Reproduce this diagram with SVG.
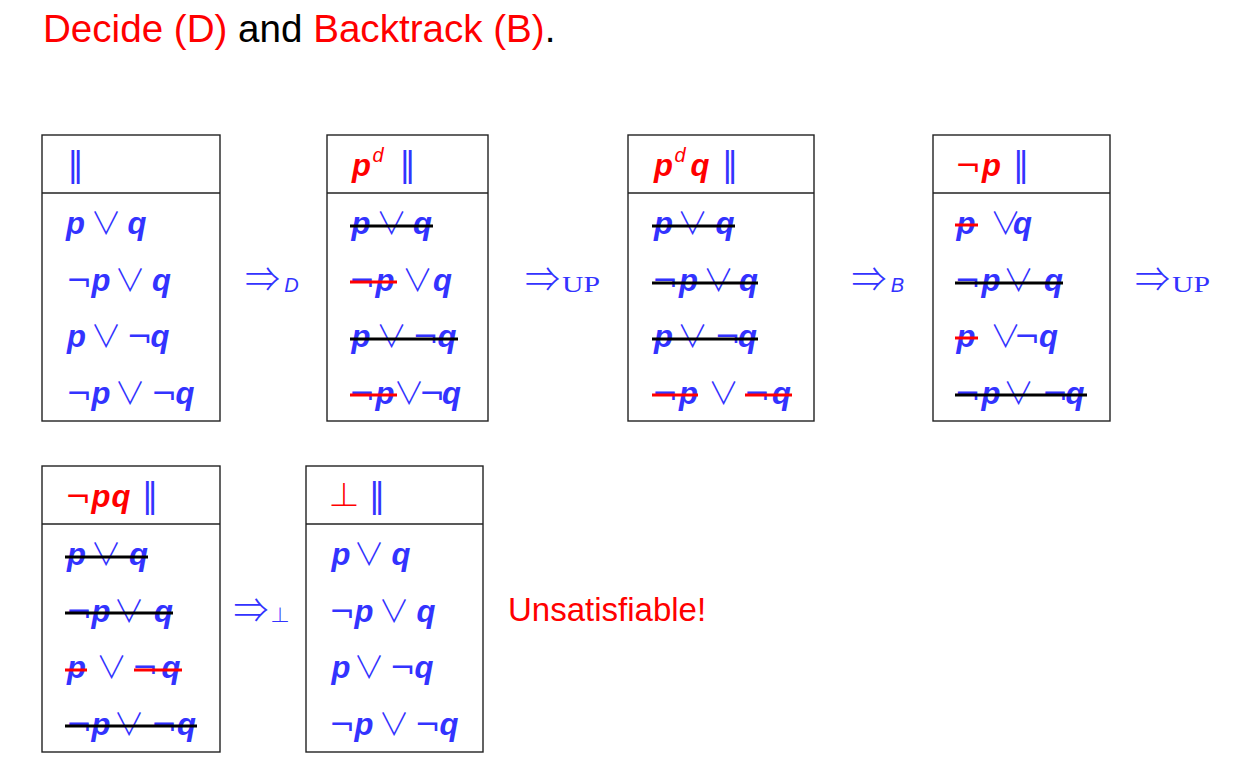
<svg xmlns="http://www.w3.org/2000/svg" width="1239" height="769" viewBox="0 0 1239 769">
<style>
text{text-anchor:middle}
.v{font-family:"Liberation Sans",Arial,sans-serif;font-style:italic;font-weight:bold;font-size:31px}
.s{font-family:"DejaVu Sans",sans-serif;font-size:31px}
.o{font-family:"Noto Sans CJK JP","DejaVu Sans",sans-serif;font-weight:300;font-size:31px}
.bar{font-family:"DejaVu Sans",sans-serif;font-size:33px}
.bot{font-family:"Noto Sans CJK JP","DejaVu Sans",sans-serif;font-weight:300;font-size:32px}
.b{fill:#3333ff}
.r{fill:#ff0000}
.box{fill:none;stroke:#222;stroke-width:1.4}
.ks{stroke:#000;stroke-width:3}
.rs{stroke:#ff0000;stroke-width:3}
.title{font-family:"Liberation Sans",Arial,sans-serif;font-size:38.6px;text-anchor:start}
.sub{font-family:"Liberation Sans",Arial,sans-serif;font-style:italic;font-size:20px}
.up{font-family:"Liberation Serif","Times New Roman",serif;font-size:23px;text-anchor:start}
.arr{font-family:"Noto Sans CJK JP","DejaVu Sans",sans-serif;font-weight:300;font-size:35px}
</style>
<text class="title" x="43" y="42"><tspan fill="#ff0000">Decide (D)</tspan> <tspan fill="#000">and</tspan> <tspan fill="#ff0000">Backtrack (B)</tspan><tspan fill="#000">.</tspan></text>

<g id="node1">
<rect class="box" x="42" y="135" width="178" height="286"/><line class="box" x1="42" y1="193" x2="220" y2="193"/>
<text y="176"><tspan class="bar b" x="75.5">‖</tspan></text>
<text y="234"><tspan class="v b" x="75.5">p</tspan><tspan class="o b" x="106">∨</tspan><tspan class="v b" x="137">q</tspan></text>
<text y="291"><tspan class="s b" x="79">¬</tspan><tspan class="v b" x="101">p</tspan><tspan class="o b" x="130">∨</tspan><tspan class="v b" x="161.5">q</tspan></text>
<text y="347"><tspan class="v b" x="76.5">p</tspan><tspan class="o b" x="106">∨</tspan><tspan class="s b" x="139.5">¬</tspan><tspan class="v b" x="160">q</tspan></text>
<text y="404"><tspan class="s b" x="79">¬</tspan><tspan class="v b" x="101">p</tspan><tspan class="o b" x="130">∨</tspan><tspan class="s b" x="164">¬</tspan><tspan class="v b" x="185">q</tspan></text>
</g>

<g id="node2">
<rect class="box" x="327" y="135" width="161" height="286"/><line class="box" x1="327" y1="193" x2="488" y2="193"/>
<text y="176"><tspan class="v r" x="361.5">p</tspan><tspan class="sub r" x="378" y="162">d</tspan><tspan class="bar b" x="407.5" y="176">‖</tspan></text>
<text y="234"><tspan class="v b" x="361">p</tspan><tspan class="o b" x="391.5">∨</tspan><tspan class="v b" x="422.5">q</tspan></text>
<text y="291"><tspan class="s b" x="362">¬</tspan><tspan class="v b" x="385">p</tspan><tspan class="o b" x="417.5">∨</tspan><tspan class="v b" x="442.5">q</tspan></text>
<text y="347"><tspan class="v b" x="361">p</tspan><tspan class="o b" x="391.5">∨</tspan><tspan class="s b" x="425.5">¬</tspan><tspan class="v b" x="447">q</tspan></text>
<text y="404"><tspan class="s b" x="362">¬</tspan><tspan class="v b" x="385">p</tspan><tspan class="o b" x="409">∨</tspan><tspan class="s b" x="432">¬</tspan><tspan class="v b" x="451.5">q</tspan></text>
<line class="ks" x1="350" y1="226" x2="433" y2="226"/>
<line class="rs" x1="350" y1="282" x2="397" y2="282"/>
<line class="ks" x1="350" y1="339" x2="458" y2="339"/>
<line class="rs" x1="350" y1="395" x2="397" y2="395"/>
</g>

<g id="node3">
<rect class="box" x="628" y="135" width="186" height="286"/><line class="box" x1="628" y1="193" x2="814" y2="193"/>
<text y="176"><tspan class="v r" x="663.5">p</tspan><tspan class="sub r" x="680" y="162">d</tspan><tspan class="v r" x="700" y="176">q</tspan><tspan class="bar b" x="730" y="176">‖</tspan></text>
<text y="234"><tspan class="v b" x="663.5">p</tspan><tspan class="o b" x="692.5">∨</tspan><tspan class="v b" x="725">q</tspan></text>
<text y="291"><tspan class="s b" x="665">¬</tspan><tspan class="v b" x="688.5">p</tspan><tspan class="o b" x="718.5">∨</tspan><tspan class="v b" x="748.5">q</tspan></text>
<text y="347"><tspan class="v b" x="663.5">p</tspan><tspan class="o b" x="692.5">∨</tspan><tspan class="s b" x="727.5">¬</tspan><tspan class="v b" x="747.5">q</tspan></text>
<text y="404"><tspan class="s b" x="665">¬</tspan><tspan class="v b" x="688.5">p</tspan><tspan class="o b" x="723.5">∨</tspan><tspan class="s b" x="757">¬</tspan><tspan class="v b" x="781.5">q</tspan></text>
<line class="ks" x1="652" y1="226" x2="735" y2="226"/>
<line class="ks" x1="652" y1="283" x2="758" y2="283"/>
<line class="ks" x1="652" y1="339" x2="758" y2="339"/>
<line class="rs" x1="652" y1="395" x2="698" y2="395"/>
<line class="rs" x1="745" y1="395" x2="792" y2="395"/>
</g>

<g id="node4">
<rect class="box" x="933" y="135" width="177" height="286"/><line class="box" x1="933" y1="193" x2="1110" y2="193"/>
<text y="176"><tspan class="s r" x="968">¬</tspan><tspan class="v r" x="991.5">p</tspan><tspan class="bar b" x="1021">‖</tspan></text>
<text y="234"><tspan class="v b" x="966">p</tspan><tspan class="o b" x="1005.5">∨</tspan><tspan class="v b" x="1022.5">q</tspan></text>
<text y="291"><tspan class="s b" x="967.5">¬</tspan><tspan class="v b" x="991">p</tspan><tspan class="o b" x="1018.5">∨</tspan><tspan class="v b" x="1053.5">q</tspan></text>
<text y="347"><tspan class="v b" x="966">p</tspan><tspan class="o b" x="1005.5">∨</tspan><tspan class="s b" x="1027">¬</tspan><tspan class="v b" x="1048.5">q</tspan></text>
<text y="404"><tspan class="s b" x="967.5">¬</tspan><tspan class="v b" x="991">p</tspan><tspan class="o b" x="1018.5">∨</tspan><tspan class="s b" x="1055">¬</tspan><tspan class="v b" x="1075">q</tspan></text>
<line class="rs" x1="955" y1="225" x2="978" y2="225"/>
<line class="ks" x1="955" y1="283" x2="1063" y2="283"/>
<line class="rs" x1="955" y1="338" x2="978" y2="338"/>
<line class="ks" x1="955" y1="395" x2="1087" y2="395"/>
</g>

<g id="node5">
<rect class="box" x="42" y="466" width="178" height="286"/><line class="box" x1="42" y1="524" x2="220" y2="524"/>
<text y="507"><tspan class="s r" x="78">¬</tspan><tspan class="v r" x="101">p</tspan><tspan class="v r" x="121">q</tspan><tspan class="bar b" x="150">‖</tspan></text>
<text y="565"><tspan class="v b" x="76.5">p</tspan><tspan class="o b" x="106">∨</tspan><tspan class="v b" x="138.5">q</tspan></text>
<text y="622"><tspan class="s b" x="79">¬</tspan><tspan class="v b" x="101">p</tspan><tspan class="o b" x="129">∨</tspan><tspan class="v b" x="163.5">q</tspan></text>
<text y="678"><tspan class="v b" x="76.5">p</tspan><tspan class="o b" x="111.5">∨</tspan><tspan class="s b" x="145">¬</tspan><tspan class="v b" x="171">q</tspan></text>
<text y="735"><tspan class="s b" x="79">¬</tspan><tspan class="v b" x="101">p</tspan><tspan class="o b" x="129">∨</tspan><tspan class="s b" x="164">¬</tspan><tspan class="v b" x="186.5">q</tspan></text>
<line class="ks" x1="65" y1="557" x2="148" y2="557"/>
<line class="ks" x1="65" y1="613" x2="173" y2="613"/>
<line class="rs" x1="65" y1="670" x2="87" y2="670"/>
<line class="rs" x1="134" y1="670" x2="182" y2="670"/>
<line class="ks" x1="65" y1="726" x2="197" y2="726"/>
</g>

<g id="node6">
<rect class="box" x="306" y="466" width="177" height="286"/><line class="box" x1="306" y1="524" x2="483" y2="524"/>
<text y="507"><tspan class="bot r" x="344">⊥</tspan><tspan class="bar b" x="377">‖</tspan></text>
<text y="565"><tspan class="v b" x="341">p</tspan><tspan class="o b" x="369">∨</tspan><tspan class="v b" x="401">q</tspan></text>
<text y="622"><tspan class="s b" x="342">¬</tspan><tspan class="v b" x="364">p</tspan><tspan class="o b" x="394">∨</tspan><tspan class="v b" x="426">q</tspan></text>
<text y="678"><tspan class="v b" x="341">p</tspan><tspan class="o b" x="369">∨</tspan><tspan class="s b" x="402.5">¬</tspan><tspan class="v b" x="424">q</tspan></text>
<text y="735"><tspan class="s b" x="342">¬</tspan><tspan class="v b" x="364">p</tspan><tspan class="o b" x="394">∨</tspan><tspan class="s b" x="427.5">¬</tspan><tspan class="v b" x="449">q</tspan></text>
</g>

<g id="result">
<text x="508" y="621" fill="#ff0000" style="font-family:'Liberation Sans',Arial,sans-serif;font-size:33px;text-anchor:start">Unsatisfiable!</text>
</g>

<g id="connectors">
<text y="292"><tspan class="arr b" x="262.5">⇒</tspan><tspan class="sub b" x="291.5" y="292">D</tspan></text>
<text y="292"><tspan class="arr b" x="542.5">⇒</tspan></text>
<text x="562" y="292" class="up b" textLength="38" lengthAdjust="spacingAndGlyphs">UP</text>
<text y="292"><tspan class="arr b" x="869">⇒</tspan><tspan class="sub b" x="897.5" y="292">B</tspan></text>
<text y="292"><tspan class="arr b" x="1152.5">⇒</tspan></text>
<text x="1172" y="292" class="up b" textLength="38" lengthAdjust="spacingAndGlyphs">UP</text>
<text y="623"><tspan class="arr b" x="251">⇒</tspan><tspan class="bot b" style="font-size:20px" x="280" y="623">⊥</tspan></text>
</g>
</svg>
